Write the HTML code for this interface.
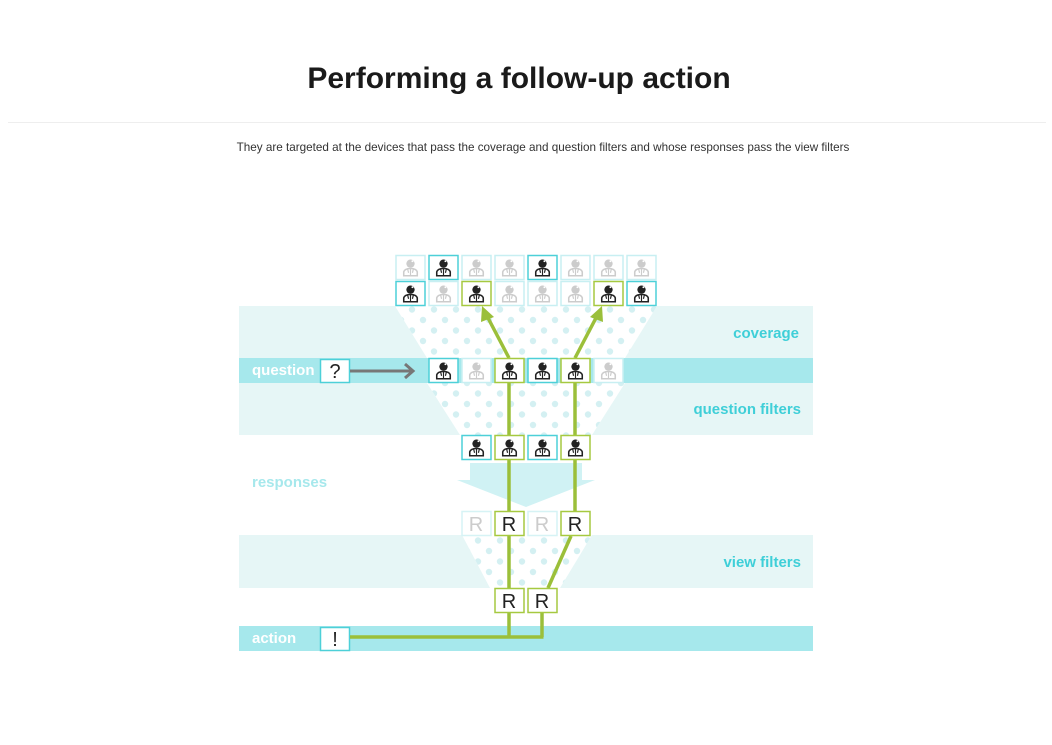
<!DOCTYPE html>
<html><head><meta charset="utf-8"><style>
html,body{margin:0;padding:0;background:#fff;width:1052px;height:745px;overflow:hidden}
svg{display:block}
</style></head><body>
<svg width="1052" height="745" viewBox="0 0 1052 745" xmlns="http://www.w3.org/2000/svg" font-family="Liberation Sans, sans-serif">
<defs>
<pattern id="dots" x="0" y="0" width="22" height="21" patternUnits="userSpaceOnUse">
<circle cx="5" cy="5" r="3.2" fill="#d4f0f2"/><circle cx="16" cy="15.5" r="3.2" fill="#d4f0f2"/>
</pattern>
<symbol id="pd" viewBox="0 0 30 25"><circle cx="15" cy="8.5" r="4.3" fill="#222"/><path d="M8 21 L8 17 Q9 13.5 15 13.5 Q21 13.5 22 17 L22 21 Z" fill="none" stroke="#222" stroke-width="1.6"/><path d="M15 14 L15 21 M12 14 L13 18 M18 14 L17 18" stroke="#222" stroke-width="1.2"/><circle cx="17" cy="6" r="1" fill="#fff"/></symbol>
<symbol id="pl" viewBox="0 0 30 25"><circle cx="15" cy="8.5" r="4.3" fill="#ccc"/><path d="M8 21 L8 17 Q9 13.5 15 13.5 Q21 13.5 22 17 L22 21 Z" fill="none" stroke="#ccc" stroke-width="1.6"/><path d="M15 14 L15 21 M12 14 L13 18 M18 14 L17 18" stroke="#ccc" stroke-width="1.2"/><circle cx="17" cy="6" r="1" fill="#fff"/></symbol>
</defs>
<text x="519" y="88" text-anchor="middle" font-size="30" font-weight="700" fill="#1a1a1a">Performing a follow-up action</text>
<line x1="8" y1="122.5" x2="1046" y2="122.5" stroke="#eee"/>
<text x="543" y="151" text-anchor="middle" font-size="11.7" fill="#333">They are targeted at the devices that pass the coverage and question filters and whose responses pass the view filters</text>

<rect x="239" y="306" width="574" height="52" fill="#e6f6f6"/>
<rect x="239" y="358" width="574" height="25" fill="#a6e8ec"/>
<rect x="239" y="383" width="574" height="52" fill="#e6f6f6"/>
<rect x="239" y="535" width="574" height="53" fill="#e6f6f6"/>
<rect x="239" y="626" width="574" height="25" fill="#a6e8ec"/>

<polygon points="395,306 657,306 625,358 427,358" fill="#fff"/>
<polygon points="395,306 657,306 625,358 427,358" fill="url(#dots)"/>
<polygon points="427,383 625,383 592,435 460,435" fill="#fff"/>
<polygon points="427,383 625,383 592,435 460,435" fill="url(#dots)"/>
<polygon points="462,535 592,535 560,588 490,588" fill="#fff"/>
<polygon points="462,535 592,535 560,588 490,588" fill="url(#dots)"/>
<polygon points="470,463 582,463 582,480 595,480 526,507 457,480 470,480" fill="#d0f2f4"/>

<text x="252" y="375" font-size="15" font-weight="700" fill="#fff">question</text>
<text x="252" y="643" font-size="15" font-weight="700" fill="#fff">action</text>
<text x="252" y="487" font-size="15" font-weight="700" fill="#a6e8ec">responses</text>
<text x="799" y="338" text-anchor="end" font-size="15" font-weight="700" fill="#3fcfd8">coverage</text>
<text x="801" y="414" text-anchor="end" font-size="15" font-weight="700" fill="#3fcfd8">question filters</text>
<text x="801" y="567" text-anchor="end" font-size="15" font-weight="700" fill="#3fcfd8">view filters</text>

<rect x="320.5" y="359.5" width="29" height="23" fill="#fff" stroke="#4dd0d8" stroke-width="1.5"/>
<text x="335" y="378" text-anchor="middle" font-size="20" fill="#222">?</text>
<rect x="320.5" y="627.5" width="29" height="23" fill="#fff" stroke="#4dd0d8" stroke-width="1.5"/>
<text x="335" y="646" text-anchor="middle" font-size="20" fill="#222">!</text>
<line x1="350" y1="371" x2="411" y2="371" stroke="#777" stroke-width="3"/>
<polyline points="405,364 413,371 405,378" fill="none" stroke="#777" stroke-width="3"/>

<g stroke="#9bbf3a" stroke-width="3.5" fill="none">
<line x1="509" y1="358" x2="487" y2="316"/>
<line x1="575" y1="358" x2="597" y2="316"/>
<line x1="509" y1="383" x2="509" y2="637"/>
<line x1="575" y1="383" x2="575" y2="511"/>
<line x1="571" y1="536" x2="548" y2="588"/>
<line x1="542" y1="612" x2="542" y2="637"/>
<line x1="350" y1="637" x2="543.5" y2="637"/>
</g>
<polygon points="482,306 481,322 494,317" fill="#9bbf3a"/>
<polygon points="602,306 590,317 603,322" fill="#9bbf3a"/>

<g stroke-width="1.5">
<rect x="396" y="255.5" width="29" height="24" fill="#fff" stroke="#c8eff2"/><use href="#pl" x="396" y="255" width="29" height="25"/>
<rect x="429" y="255.5" width="29" height="24" fill="#fff" stroke="#4dd0d8"/><use href="#pd" x="429" y="255" width="29" height="25"/>
<rect x="462" y="255.5" width="29" height="24" fill="#fff" stroke="#c8eff2"/><use href="#pl" x="462" y="255" width="29" height="25"/>
<rect x="495" y="255.5" width="29" height="24" fill="#fff" stroke="#c8eff2"/><use href="#pl" x="495" y="255" width="29" height="25"/>
<rect x="528" y="255.5" width="29" height="24" fill="#fff" stroke="#4dd0d8"/><use href="#pd" x="528" y="255" width="29" height="25"/>
<rect x="561" y="255.5" width="29" height="24" fill="#fff" stroke="#c8eff2"/><use href="#pl" x="561" y="255" width="29" height="25"/>
<rect x="594" y="255.5" width="29" height="24" fill="#fff" stroke="#c8eff2"/><use href="#pl" x="594" y="255" width="29" height="25"/>
<rect x="627" y="255.5" width="29" height="24" fill="#fff" stroke="#c8eff2"/><use href="#pl" x="627" y="255" width="29" height="25"/>
<rect x="396" y="281.5" width="29" height="24" fill="#fff" stroke="#4dd0d8"/><use href="#pd" x="396" y="281" width="29" height="25"/>
<rect x="429" y="281.5" width="29" height="24" fill="#fff" stroke="#c8eff2"/><use href="#pl" x="429" y="281" width="29" height="25"/>
<rect x="462" y="281.5" width="29" height="24" fill="#fff" stroke="#a6c940"/><use href="#pd" x="462" y="281" width="29" height="25"/>
<rect x="495" y="281.5" width="29" height="24" fill="#fff" stroke="#c8eff2"/><use href="#pl" x="495" y="281" width="29" height="25"/>
<rect x="528" y="281.5" width="29" height="24" fill="#fff" stroke="#c8eff2"/><use href="#pl" x="528" y="281" width="29" height="25"/>
<rect x="561" y="281.5" width="29" height="24" fill="#fff" stroke="#c8eff2"/><use href="#pl" x="561" y="281" width="29" height="25"/>
<rect x="594" y="281.5" width="29" height="24" fill="#fff" stroke="#a6c940"/><use href="#pd" x="594" y="281" width="29" height="25"/>
<rect x="627" y="281.5" width="29" height="24" fill="#fff" stroke="#4dd0d8"/><use href="#pd" x="627" y="281" width="29" height="25"/>
<rect x="429" y="358.5" width="29" height="24" fill="#fff" stroke="#4dd0d8"/><use href="#pd" x="429" y="358" width="29" height="25"/>
<rect x="462" y="358.5" width="29" height="24" fill="#fff" stroke="#c8eff2"/><use href="#pl" x="462" y="358" width="29" height="25"/>
<rect x="495" y="358.5" width="29" height="24" fill="#fff" stroke="#a6c940"/><use href="#pd" x="495" y="358" width="29" height="25"/>
<rect x="528" y="358.5" width="29" height="24" fill="#fff" stroke="#4dd0d8"/><use href="#pd" x="528" y="358" width="29" height="25"/>
<rect x="561" y="358.5" width="29" height="24" fill="#fff" stroke="#a6c940"/><use href="#pd" x="561" y="358" width="29" height="25"/>
<rect x="594" y="358.5" width="29" height="24" fill="#fff" stroke="#c8eff2"/><use href="#pl" x="594" y="358" width="29" height="25"/>
<rect x="462" y="435.5" width="29" height="24" fill="#fff" stroke="#4dd0d8"/><use href="#pd" x="462" y="435" width="29" height="25"/>
<rect x="495" y="435.5" width="29" height="24" fill="#fff" stroke="#a6c940"/><use href="#pd" x="495" y="435" width="29" height="25"/>
<rect x="528" y="435.5" width="29" height="24" fill="#fff" stroke="#4dd0d8"/><use href="#pd" x="528" y="435" width="29" height="25"/>
<rect x="561" y="435.5" width="29" height="24" fill="#fff" stroke="#a6c940"/><use href="#pd" x="561" y="435" width="29" height="25"/>
<rect x="462" y="511.5" width="29" height="24" fill="#fff" stroke="#d6f3f5"/>
<rect x="495" y="511.5" width="29" height="24" fill="#fff" stroke="#a6c940"/>
<rect x="528" y="511.5" width="29" height="24" fill="#fff" stroke="#d6f3f5"/>
<rect x="561" y="511.5" width="29" height="24" fill="#fff" stroke="#a6c940"/>
<rect x="495" y="588.5" width="29" height="24" fill="#fff" stroke="#a6c940"/>
<rect x="528" y="588.5" width="29" height="24" fill="#fff" stroke="#a6c940"/>
</g>
<g font-size="20" text-anchor="middle">
<text x="476" y="531" fill="#ccc">R</text>
<text x="509" y="531" fill="#222">R</text>
<text x="542" y="531" fill="#ccc">R</text>
<text x="575" y="531" fill="#222">R</text>
<text x="509" y="608" fill="#222">R</text>
<text x="542" y="608" fill="#222">R</text>
</g>
</svg>
</body></html>
